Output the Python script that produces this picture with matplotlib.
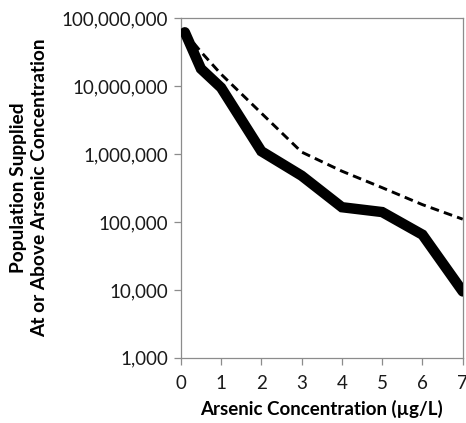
import matplotlib
matplotlib.use("Agg")
from matplotlib import pyplot as plt
from matplotlib.ticker import FuncFormatter

plt.rcParams["font.family"] = ["Lato", "DejaVu Sans"]

# arsenic concentration (ug/L)
conc = [0.1, 0.5, 1, 2, 3, 4, 5, 6, 7]
# population supplied at or above concentration
pop_solid = [62e6, 18e6, 9.5e6, 1.1e6, 4.8e5, 1.65e5, 1.4e5, 6.5e4, 9.5e3]
pop_dashed = [62e6, 3.2e7, 1.5e7, 4.0e6, 1.07e6, 5.6e5, 3.2e5, 1.8e5, 1.1e5]

y_ticks = [1e3, 1e4, 1e5, 1e6, 1e7, 1e8]
x_ticks = [0, 1, 2, 3, 4, 5, 6, 7]

fig = plt.figure(figsize=(4.66, 4.23), dpi=100)
ax = fig.add_axes([0.388, 0.154, 0.605, 0.803])

ax.plot(conc, pop_dashed, color="black", lw=2.1, ls=(0, (3, 1.8)), zorder=2)
ax.plot(conc, pop_solid, color="black", lw=7.5, solid_capstyle="round",
        solid_joinstyle="miter", zorder=3)

ax.set_yscale("log")
ax.set_ylim(1e3, 1e8)
ax.set_xlim(0, 7)
ax.set_yticks(y_ticks)
ax.minorticks_off()
ax.set_xticks(x_ticks)
ax.yaxis.set_major_formatter(FuncFormatter(lambda v, p: "{:,.0f}".format(v)))

for s in ax.spines.values():
    s.set_color("#8c8c8c")
    s.set_linewidth(0.9)
ax.tick_params(axis="both", colors="#8c8c8c", labelcolor="#1a1a1a",
               labelsize=13.5, length=5, width=0.9, direction="out")
ax.tick_params(axis="x", pad=7)
ax.tick_params(axis="y", pad=4)

ax.set_xlabel("Arsenic Concentration (\u00b5g/L)", fontsize=13.5,
              fontweight="bold", labelpad=6)
ax.set_ylabel("Population Supplied\nAt or Above Arsenic Concentration",
              fontsize=13.8, fontweight="bold", labelpad=10, linespacing=1.25)

fig.savefig("out.png", dpi=100)
